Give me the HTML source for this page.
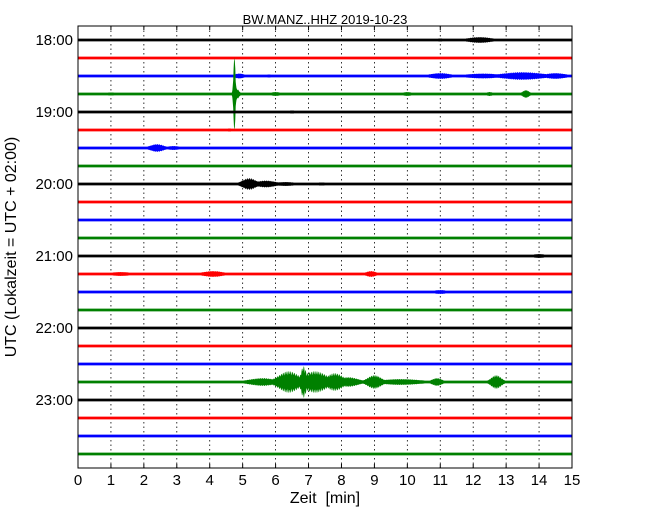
<!DOCTYPE html>
<html><head><meta charset="utf-8"><style>
body{margin:0;background:#fff;width:650px;height:520px;overflow:hidden}
svg{font-family:"Liberation Sans","DejaVu Sans",sans-serif}
</style></head><body>
<svg id="chart" width="650" height="520" viewBox="0 0 650 520" xmlns="http://www.w3.org/2000/svg">
<text x="325" y="24" font-size="13" text-anchor="middle">BW.MANZ..HHZ 2019-10-23</text>
<g id="grid"></g><g id="traces"></g><g id="axes"></g>
<text x="325" y="503" font-size="16" text-anchor="middle" xml:space="preserve">Zeit  [min]</text>
<text transform="translate(16,247) rotate(-90)" font-size="16" text-anchor="middle">UTC (Lokalzeit = UTC + 02:00)</text>
</svg>
<script>
const xTicks=[0,1,2,3,4,5,6,7,8,9,10,11,12,13,14,15];
const hourLabels=["18:00","19:00","20:00","21:00","22:00","23:00"];
const traceColors=["#000","#f00","#00f","#008000"];
const traceCount=24;
// events per trace: [minute, half-amplitude, width(min)]
const ev0=[[12.2,3,0.35],[11,1.5,0.2]];
const ev1=[];
const ev2=[[4.9,2.5,0.15],[5.8,1.5,0.15],[11,3,0.3],[12.3,2.5,0.5],[13.5,4,0.6],[14.5,3,0.3]];
const ev3=[[4.75,36,0.03],[4.8,6,0.08],[6,2,0.15],[10,2,0.15],[13.6,4,0.1],[12.5,2,0.1],[1,1.5,0.3]];
const ev4=[[6.5,1.5,0.2]];
const ev5=[[4.6,1.5,0.15]];
const ev6=[[2.4,4,0.2],[2.9,2,0.2]];
const ev7=[];
const ev8=[[5.2,6,0.2],[5.7,3.5,0.3],[6.3,2,0.3],[7.4,1.5,0.3]];
const ev9=[];const ev10=[];const ev11=[];
const ev12=[[14,2,0.2]];
const ev13=[[1.3,2,0.3],[4.1,3,0.3],[8.9,3,0.15]];
const ev14=[[11,2,0.2]];
const ev15=[];const ev16=[];const ev17=[];const ev18=[];
const ev19=[[5.6,4,0.4],[6.4,11,0.3],[6.85,16,0.08],[7.2,11,0.35],[7.8,9,0.25],[8.2,5,0.3],[9.0,7,0.2],[9.8,3,0.6],[10.9,4,0.15],[12.7,7,0.15]];
const ev20=[];const ev21=[];const ev22=[];const ev23=[];
const events=[ev0,ev1,ev2,ev3,ev4,ev5,ev6,ev7,ev8,ev9,ev10,ev11,ev12,ev13,ev14,ev15,ev16,ev17,ev18,ev19,ev20,ev21,ev22,ev23];
const L=78,R=572,T=26,B=468,Y0=40,DY=18;
const xs=m=>L+(R-L)*m/15;
const ys=i=>Y0+DY*i;
const NS="http://www.w3.org/2000/svg";
const mk=(t,a,p)=>{const e=document.createElementNS(NS,t);for(const k in a)e.setAttribute(k,a[k]);p.appendChild(e);return e;};
const grid=document.getElementById('grid'),tr=document.getElementById('traces'),ax=document.getElementById('axes');
xTicks.forEach(t=>{if(t>0&&t<15){const l=mk('line',{x1:xs(t),x2:xs(t),y1:T,y2:B,stroke:'#000','stroke-width':0.8,'stroke-dasharray':'1.5,3'},grid);

}
const tx=mk('text',{x:xs(t),y:B+17,'font-size':15,'text-anchor':'middle'},ax);tx.textContent=t;


mk('line',{x1:xs(t),x2:xs(t),y1:B,y2:B-4,stroke:'#000'},ax);mk('line',{x1:xs(t),x2:xs(t),y1:T,y2:T+4,stroke:'#000'},ax);});
hourLabels.forEach((h,k)=>{const y=ys(k*4);const tx=mk('text',{x:73,y:y+5,'font-size':15,'text-anchor':'end'},ax);tx.textContent=h;


mk('line',{x1:L,x2:L+4,y1:y,y2:y,stroke:'#000'},ax);mk('line',{x1:R,x2:R-4,y1:y,y2:y,stroke:'#000'},ax);});
const N=1200;
events.forEach((ev,i)=>{const y=ys(i);let top=[],bot=[];
for(let s=0;s<=N;s++){const m=15*s/N;let a=1.4;ev.forEach(([c,h,w])=>{const z=(m-c)/w;const v=h*Math.exp(-(z*z)/2);if(v>a)a=v;});
if(a>1.6&&a<20)a=1.4+(a-1.4)*(0.55+0.45*Math.abs(Math.sin(s*0.69)));
top.push(xs(m).toFixed(1)+','+(y-a).toFixed(1));bot.unshift(xs(m).toFixed(1)+','+(y+a).toFixed(1));}
const p=mk('polygon',{points:top.concat(bot).join(' '),fill:traceColors[i%4]},tr);

});
const f=mk('rect',{x:L,y:T,width:R-L,height:B-T,fill:'none',stroke:'#000','stroke-width':1},ax);


</script>
</body></html>
